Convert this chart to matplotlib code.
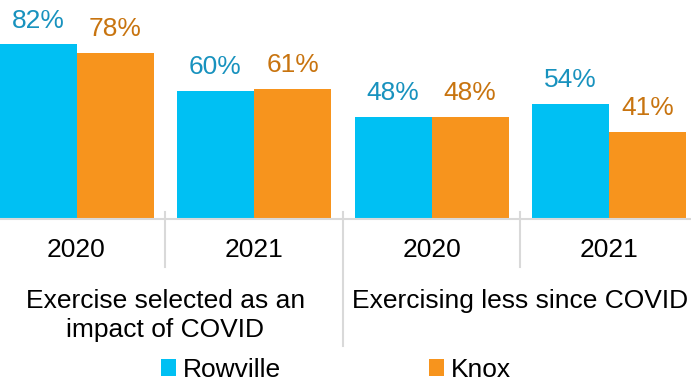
import matplotlib
matplotlib.use("Agg")
import matplotlib.pyplot as plt
from matplotlib.patches import Patch
import numpy as np

plt.rcParams['font.family'] = ['Liberation Sans', 'DejaVu Sans']

years = ["2020", "2021", "2020", "2021"]
groups = ["Exercise selected as an\nimpact of COVID", "Exercising less since COVID"]
series_names = ["Rowville", "Knox"]
rowville = [82, 60, 48, 54]
knox = [78, 61, 48, 41]

bar_colors = ["#00C0F3", "#F7941D"]
label_colors = ["#1892BE", "#C8740F"]
FS = 19

W, H = 691, 387
fig = plt.figure(figsize=(W / 100, H / 100), dpi=100)
base_px = 219
left_px = -12.25
ax = fig.add_axes([left_px / W, (H - base_px) / H, 710 / W, base_px / H])

x = np.arange(len(years))
bw = 77 / 177.5
for i, (vals, name) in enumerate(zip([rowville, knox], series_names)):
    pos = x + (i - 0.5) * bw
    bars = ax.bar(pos, vals, width=bw, color=bar_colors[i], label=name, zorder=2)
    for b, v in zip(bars, vals):
        ax.annotate(f"{v}%", (b.get_x() + b.get_width() / 2, v),
                    xytext=(0, 8.5), textcoords="offset points",
                    ha="center", va="bottom", fontsize=FS, color=label_colors[i])

ax.set_xlim(-0.5, len(years) - 0.5)
ax.set_ylim(0, base_px / 2.13)
for s in ["top", "right", "left"]:
    ax.spines[s].set_visible(False)
ax.spines["bottom"].set_color("#D9D9D9")
ax.spines["bottom"].set_linewidth(1.5)
ax.set_xticks([])
ax.set_yticks([])

tr = ax.get_xaxis_transform()
def ay(py):
    return (base_px - py) / base_px

# category separators
for xs, bottom in [(0.5, 267), (1.5, 346), (2.5, 267)]:
    ax.plot([xs, xs], [ay(212), ay(bottom)], transform=tr, color="#D9D9D9",
            lw=1.5, clip_on=False, zorder=1)

# year labels
for xi, yr in zip(x, years):
    ax.text(xi, ay(250), yr, transform=tr, ha="center", va="center", fontsize=FS)

# group labels
for gx, g in zip([0.5, 2.5], groups):
    ax.text(gx, ay(289), g, transform=tr, ha="center", va="top", fontsize=FS,
            linespacing=1.27)

handles = [Patch(facecolor=c, edgecolor="none") for c in bar_colors]
fig.legend(handles, series_names, loc="center", bbox_to_anchor=(336 / W, (H - 370) / H),
           ncol=2, frameon=False, fontsize=FS, handlelength=0.58, handleheight=0.58,
           handletextpad=0.27, columnspacing=5.6, borderpad=0, borderaxespad=0)

fig.savefig("out.png", dpi=100)
